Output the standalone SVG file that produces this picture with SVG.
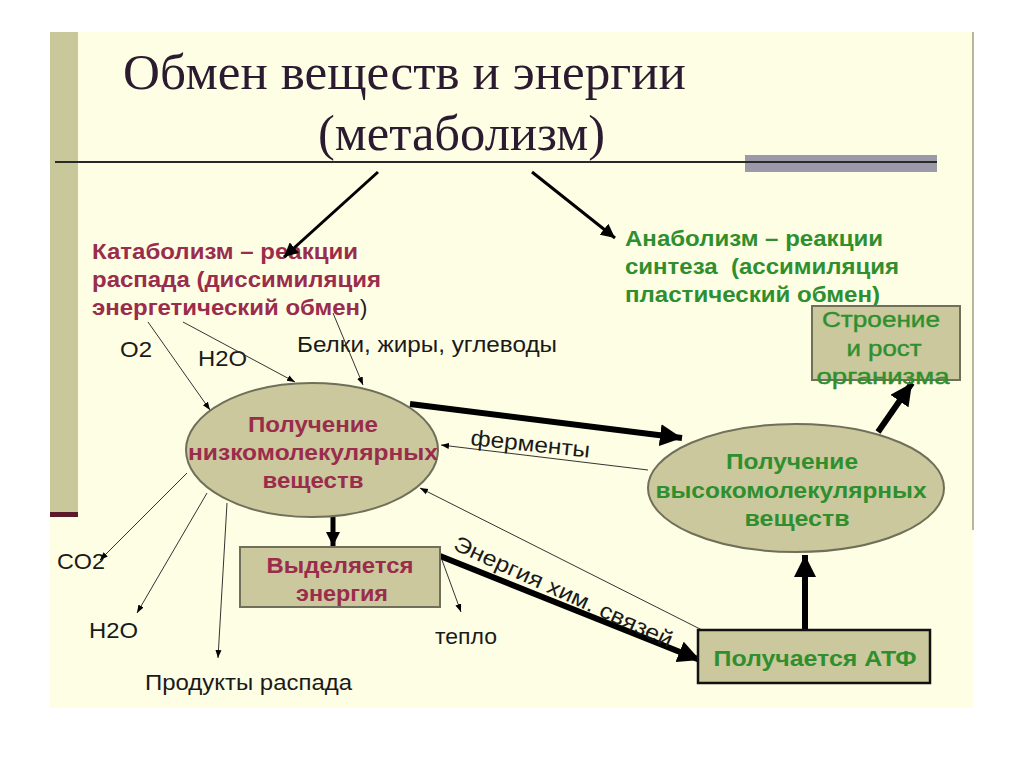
<svg xmlns="http://www.w3.org/2000/svg" width="1024" height="767" viewBox="0 0 1024 767">
<style>
.t{font-family:"Liberation Sans",Arial,sans-serif}
.title{font-family:"Liberation Serif","Times New Roman",serif;fill:#2b1b30}
.mar{fill:#9a2c4c;font-weight:bold;font-size:22px}
.grn{fill:#2f8f2f;font-weight:bold;font-size:22px}
.blk{fill:#1a1a1a;font-size:22px}
.box{fill:#cac89c;stroke:#6f6f5a;stroke-width:2}
.thin{stroke:#333;stroke-width:1;fill:none}
.thick{stroke:#000;fill:none}
</style>
<defs>
<marker id="sm" markerUnits="userSpaceOnUse" markerWidth="10" markerHeight="8" refX="8" refY="4" orient="auto"><path d="M0,1 L8,4 L0,7 z" fill="#000"/></marker>
<marker id="mid" markerUnits="userSpaceOnUse" markerWidth="16" markerHeight="14" refX="14" refY="7" orient="auto"><path d="M0,0 L14,7 L0,14 z" fill="#000"/></marker>
<marker id="big" markerUnits="userSpaceOnUse" markerWidth="24" markerHeight="22" refX="22" refY="11" orient="auto"><path d="M0,0 L22,11 L0,22 z" fill="#000"/></marker>
</defs>
<rect x="0" y="0" width="1024" height="767" fill="#ffffff"/>
<rect x="50" y="32" width="923" height="676" fill="#fefee4"/>
<rect x="50" y="32" width="28" height="482" fill="#c8c89a"/>
<rect x="50" y="512" width="28" height="5" fill="#5a1a2a"/>
<line x1="973" y1="32" x2="973" y2="530" stroke="#b8b896" stroke-width="2"/>
<rect x="745" y="155" width="192" height="17" fill="#9c9aa8"/>
<line x1="55" y1="162" x2="937" y2="162" stroke="#2a2a2a" stroke-width="2"/>
<g id="title">
<text class="title" x="123" y="89" font-size="50" textLength="563" lengthAdjust="spacingAndGlyphs">Обмен веществ и энергии</text>
<text class="title" x="318" y="150" font-size="50" textLength="287" lengthAdjust="spacingAndGlyphs">(метаболизм)</text>
</g>
<g id="catabolism">
<text class="t mar" x="92" y="259" textLength="266" lengthAdjust="spacingAndGlyphs">Катаболизм – реакции</text>
<text class="t mar" x="92" y="287" textLength="289" lengthAdjust="spacingAndGlyphs">распада (диссимиляция</text>
<text class="t mar" x="92" y="315" textLength="268" lengthAdjust="spacingAndGlyphs">энергетический обмен</text>
<text class="t blk" x="360" y="315">)</text>
</g>
<g id="anabolism">
<text class="t grn" x="625" y="246" textLength="258" lengthAdjust="spacingAndGlyphs">Анаболизм – реакции</text>
<text class="t grn" x="625" y="274" textLength="274" lengthAdjust="spacingAndGlyphs" xml:space="preserve">синтеза  (ассимиляция</text>
<text class="t grn" x="625" y="302" textLength="255" lengthAdjust="spacingAndGlyphs">пластический обмен)</text>
</g>
<g id="inputs">
<text class="t blk" x="120" y="357" textLength="32" lengthAdjust="spacingAndGlyphs">O2</text>
<text class="t blk" x="198" y="366" textLength="49" lengthAdjust="spacingAndGlyphs">H2O</text>
<text class="t blk" x="297" y="352" textLength="260" lengthAdjust="spacingAndGlyphs">Белки, жиры, углеводы</text>
</g>
<g id="outputs">
<text class="t blk" x="57" y="569" textLength="48" lengthAdjust="spacingAndGlyphs">CO2</text>
<text class="t blk" x="89" y="638" textLength="49" lengthAdjust="spacingAndGlyphs">H2O</text>
<text class="t blk" x="145" y="690" textLength="207" lengthAdjust="spacingAndGlyphs">Продукты распада</text>
<text class="t blk" x="435" y="644" textLength="62" lengthAdjust="spacingAndGlyphs">тепло</text>
</g>
<g id="connectors">
<line class="thick" x1="378" y1="172" x2="284" y2="257" stroke-width="3" marker-end="url(#mid)"/>
<line class="thick" x1="532" y1="172" x2="615" y2="238" stroke-width="3" marker-end="url(#mid)"/>
<line class="thin" x1="148" y1="322" x2="210" y2="410" marker-end="url(#sm)"/>
<line class="thin" x1="183" y1="322" x2="295" y2="382" marker-end="url(#sm)"/>
<line class="thin" x1="333" y1="313" x2="363" y2="385" marker-end="url(#sm)"/>
<line class="thin" x1="187" y1="473" x2="100" y2="560" marker-end="url(#sm)"/>
<line class="thin" x1="207" y1="493" x2="137" y2="613" marker-end="url(#sm)"/>
<line class="thin" x1="227" y1="503" x2="218" y2="658" marker-end="url(#sm)"/>
<line class="thin" x1="442" y1="560" x2="461" y2="612" marker-end="url(#sm)"/>
<line class="thick" x1="410" y1="404" x2="682" y2="438" stroke-width="6" marker-end="url(#big)"/>
<line class="thin" x1="648" y1="470" x2="441" y2="445" marker-end="url(#sm)"/>
<line class="thin" x1="702" y1="630" x2="420" y2="488" marker-end="url(#sm)"/>
<line class="thick" x1="333" y1="517" x2="333" y2="546" stroke-width="5" marker-end="url(#mid)"/>
<line class="thick" x1="440" y1="556" x2="700" y2="660" stroke-width="6" marker-end="url(#big)"/>
<line class="thick" x1="805" y1="630" x2="805" y2="555" stroke-width="6" marker-end="url(#big)"/>
<line class="thick" x1="878" y1="432" x2="912" y2="383" stroke-width="6" marker-end="url(#big)"/>
<text class="t blk" x="470" y="445" textLength="120" lengthAdjust="spacingAndGlyphs" transform="rotate(6 470 445)">ферменты</text>
<text class="t blk" x="452" y="549" font-size="21" textLength="238" lengthAdjust="spacingAndGlyphs" transform="rotate(24.5 452 549)">Энергия хим. связей</text>
</g>
<g id="low-molecular">
<ellipse class="box" cx="312" cy="450" rx="126" ry="67" stroke-width="1.5"/>
<text class="t mar" x="313" y="432" text-anchor="middle" textLength="130" lengthAdjust="spacingAndGlyphs">Получение</text>
<text class="t mar" x="313" y="460" text-anchor="middle" textLength="250" lengthAdjust="spacingAndGlyphs">низкомолекулярных</text>
<text class="t mar" x="313" y="488" text-anchor="middle" textLength="101" lengthAdjust="spacingAndGlyphs">веществ</text>
</g>
<g id="high-molecular">
<ellipse class="box" cx="796" cy="488" rx="148" ry="64" stroke-width="1.5"/>
<text class="t grn" x="792" y="469" text-anchor="middle" textLength="132" lengthAdjust="spacingAndGlyphs">Получение</text>
<text class="t grn" x="791" y="498" text-anchor="middle" textLength="271" lengthAdjust="spacingAndGlyphs">высокомолекулярных</text>
<text class="t grn" x="797" y="526" text-anchor="middle" textLength="105" lengthAdjust="spacingAndGlyphs">веществ</text>
</g>
<g id="growth">
<rect class="box" x="812" y="306" width="148" height="74"/>
<text class="t" x="881" y="327" text-anchor="middle" font-size="22" fill="#2f8f2f" stroke="#2f8f2f" stroke-width="0.4" textLength="118" lengthAdjust="spacingAndGlyphs">Строение</text>
<text class="t" x="884" y="356" text-anchor="middle" font-size="22" fill="#2f8f2f" stroke="#2f8f2f" stroke-width="0.4" textLength="75" lengthAdjust="spacingAndGlyphs">и рост</text>
<text class="t" x="883" y="384" text-anchor="middle" font-size="22" fill="#2f8f2f" stroke="#2f8f2f" stroke-width="0.4" textLength="133" lengthAdjust="spacingAndGlyphs">организма</text>
</g>
<g id="energy">
<rect class="box" x="240" y="547" width="200" height="60"/>
<text class="t mar" x="340" y="573" text-anchor="middle" textLength="147" lengthAdjust="spacingAndGlyphs">Выделяется</text>
<text class="t mar" x="342" y="601" text-anchor="middle" textLength="92" lengthAdjust="spacingAndGlyphs">энергия</text>
</g>
<g id="atp">
<rect x="698" y="630" width="232" height="53" fill="#cac89c" stroke="#111" stroke-width="2.5"/>
<text class="t grn" x="815" y="666" text-anchor="middle" textLength="203" lengthAdjust="spacingAndGlyphs">Получается АТФ</text>
</g>
</svg>
